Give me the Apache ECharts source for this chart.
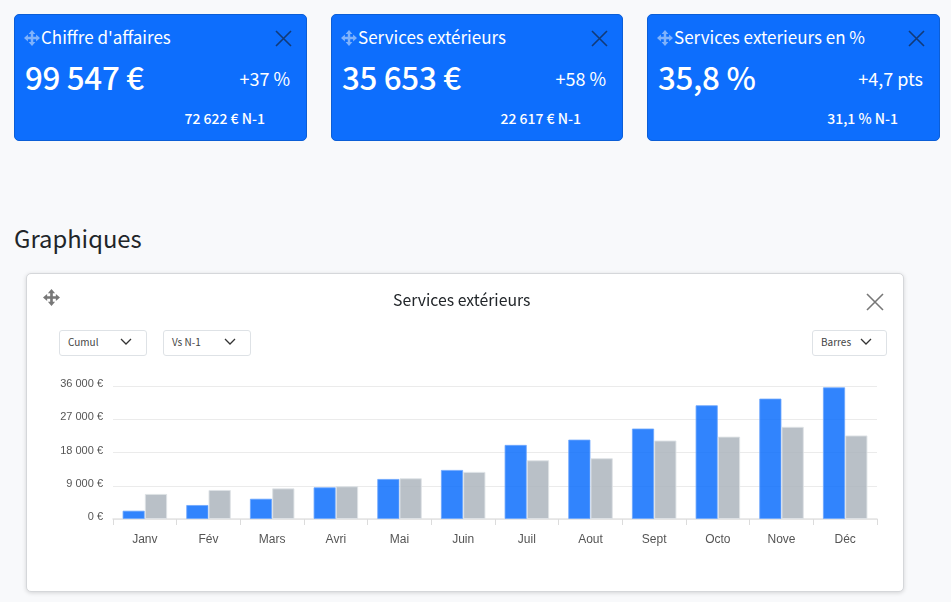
<!DOCTYPE html>
<html>
<head>
<meta charset="utf-8">
<title>Services extérieurs</title>
<script src="https://cdn.jsdelivr.net/npm/echarts@6/dist/echarts.min.js"></script>
<style>
html, body { margin: 0; padding: 0; }
body { width: 951px; height: 602px; background: #f8f9fb; overflow: hidden; position: relative; font-family: "Noto Sans CJK SC", "Noto Sans", sans-serif; color: #212529; }
.card { position: absolute; top: 14px; height: 127px; box-sizing: border-box; background: #0d6efd; border: 1px solid #0b5ed7; border-radius: 5px; color: #fff; }
.card div, .card svg { position: absolute; white-space: nowrap; }
.card .name { left: 26px; top: 9px; font-size: 17px; line-height: 26px; }
.card .big { left: 10px; top: 39px; font-size: 31.3px; line-height: 46px; font-weight: 500; letter-spacing: -0.3px; }
.card .delta { right: 16px; top: 49px; font-size: 18px; line-height: 28px; }
.card .prev { right: 41px; top: 92px; font-size: 14px; line-height: 22px; font-weight: 500; }
.card .move { left: 9px; top: 15px; }
.card .close { top: 15px; }
h2 { position: absolute; left: 14px; top: 221px; margin: 0; font-size: 23.8px; line-height: 34px; font-weight: 400; }
#panel { position: absolute; left: 26px; top: 273px; width: 878px; height: 319px; box-sizing: border-box; background: #fff; border: 1px solid #d5d7da; border-radius: 5px; box-shadow: 0 1px 4px rgba(0,0,0,.15); }
#content { position: absolute; left: 0; top: 0; width: 876px; height: 317px; }
.select { position: absolute; top: 56px; height: 26px; box-sizing: border-box; border: 1px solid #dee2e6; border-radius: 3px; background: #fff; font-size: 10px; line-height: 22px; padding-left: 8px; color: #444; }
.select svg { position: absolute; top: 7px; }
#panel > .icon { position: absolute; }
</style>
</head>
<body>
<div id="cards"></div>
<h2>Graphiques</h2>
<div id="panel">
    <div id="content"></div>
    <svg class="icon" style="left:16px;top:15px" width="17" height="17" viewBox="0 0 18 18"><use href="#moveIcon" fill="#777"/></svg>
    <svg class="icon" style="left:838px;top:18px" width="20" height="20" viewBox="0 0 20 20"><path d="M2 2 L18 18 M18 2 L2 18" stroke="#777" stroke-width="1.6" fill="none"/></svg>
    <div class="select" style="left:32px;width:88px">Cumul<svg style="left:59px" width="14" height="9" viewBox="0 0 14 9"><path d="M2 1 L7 6 L12 1" stroke="#333" stroke-width="1.3" fill="none"/></svg></div>
    <div class="select" style="left:136px;width:88px">Vs N-1<svg style="left:59px" width="14" height="9" viewBox="0 0 14 9"><path d="M2 1 L7 6 L12 1" stroke="#333" stroke-width="1.3" fill="none"/></svg></div>
    <div class="select" style="left:785px;width:75px">Barres<svg style="left:46px" width="14" height="9" viewBox="0 0 14 9"><path d="M2 1 L7 6 L12 1" stroke="#333" stroke-width="1.3" fill="none"/></svg></div>
</div>
<svg width="0" height="0" style="position:absolute"><defs>
    <g id="moveIcon"><path d="M9 0 L12.8 4.4 L10.4 4.4 L10.4 7.6 L13.6 7.6 L13.6 5.2 L18 9 L13.6 12.8 L13.6 10.4 L10.4 10.4 L10.4 13.6 L12.8 13.6 L9 18 L5.2 13.6 L7.6 13.6 L7.6 10.4 L4.4 10.4 L4.4 12.8 L0 9 L4.4 5.2 L4.4 7.6 L7.6 7.6 L7.6 4.4 L5.2 4.4 Z"/></g>
</defs></svg>
<script>
// cartes du haut
var cardLefts = [14, 331, 647];
var cardWidths = [293, 292, 293];
var cardNames = ["Chiffre d'affaires", "Services extérieurs", "Services exterieurs en %"];
var cardValues = ["99 547 €", "35 653 €", "35,8 %"];
var cardDeltas = ["+37 %", "+58 %", "+4,7 pts"];
var cardPrevious = ["72 622 € N-1", "22 617 € N-1", "31,1 % N-1"];

// graphique
var months = ["Janv", "Fév", "Mars", "Avri", "Mai", "Juin", "Juil", "Aout", "Sept", "Octo", "Nove", "Déc"];
var currentYear = [2260, 3800, 5500, 8590, 10850, 13290, 20070, 21500, 24500, 30800, 32600, 35653];
var previousYear = [6780, 7860, 8300, 8860, 11030, 12750, 15900, 16450, 21240, 22300, 24950, 22617];

var html = "";
for (let i = 0; i < cardNames.length; i++) {
    html += '<div class="card" style="left:' + cardLefts[i] + 'px;width:' + cardWidths[i] + 'px">'
        + '<svg class="move" width="16" height="16" viewBox="0 0 18 18"><use href="#moveIcon" fill="#7fb2fb"/></svg>'
        + '<div class="name">' + cardNames[i] + '</div>'
        + '<svg class="close" style="left:' + (cardWidths[i] - 33) + 'px" width="17" height="17" viewBox="0 0 17 17"><path d="M1 1 L16 16 M16 1 L1 16" stroke="#123a78" stroke-width="1.6" fill="none"/></svg>'
        + '<div class="big">' + cardValues[i] + '</div>'
        + '<div class="delta">' + cardDeltas[i] + '</div>'
        + '<div class="prev">' + cardPrevious[i] + '</div>'
        + '</div>';
}
document.getElementById("cards").innerHTML = html;

var myChart = echarts.init(document.getElementById("content"));
myChart.setOption({
    animation: false,
    title: {
        text: "Services extérieurs",
        left: 361,
        top: 13,
        textStyle: { fontFamily: "Noto Sans CJK SC", fontSize: 15.8, fontWeight: 400, color: "#212529" },
    },
    grid: { left: 86, right: 26, top: 112, height: 133 },
    xAxis: {
        type: "category",
        data: months,
        axisLine: { lineStyle: { color: "#e3e3e3", width: 1.5 } },
        axisTick: { show: true, length: 6, lineStyle: { color: "#dcdcdc", width: 1 } },
        axisLabel: { fontFamily: "Liberation Sans", fontSize: 12, color: "#555", margin: 15 },
    },
    yAxis: {
        type: "value",
        min: 0,
        max: 36000,
        interval: 9000,
        axisLine: { show: false },
        axisTick: { show: false },
        splitLine: { lineStyle: { color: "#ebebeb", width: 1.2 } },
        axisLabel: {
            fontFamily: "Liberation Sans",
            fontSize: 11,
            color: "#555",
            margin: 10,
            verticalAlign: "bottom",
            lineHeight: 4,
            formatter: function(v) {
                return String(v).replace(/\B(?=(\d{3})+$)/g, " ") + " €";
            },
        },
    },
    series: [{
        type: "bar",
        data: currentYear,
        barWidth: "35%",
        barGap: 0,
        itemStyle: { color: "rgba(13,110,253,0.85)", borderColor: "rgba(110,168,254,0.8)", borderWidth: 1 },
    }, {
        type: "bar",
        data: previousYear,
        barWidth: "35%",
        itemStyle: { color: "rgba(173,181,189,0.85)", borderColor: "rgba(222,226,230,0.9)", borderWidth: 1 },
    }],
});
</script>
</body>
</html>
